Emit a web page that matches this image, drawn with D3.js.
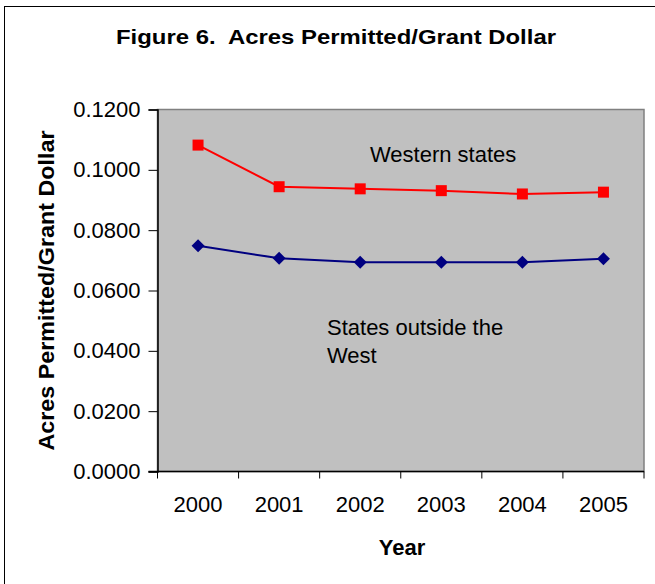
<!DOCTYPE html>
<html>
<head>
<meta charset="utf-8">
<title>Figure 6</title>
<script src="https://d3js.org/d3.v7.min.js"></script>
<style>
    body { margin: 0; background: #fff; font-family: "Liberation Sans", Arial, sans-serif; }
    .tick-label { font-size: 22px; fill: #000; }
    .axis-title { font-size: 22px; font-weight: bold; fill: #000; }
    .note { font-size: 22px; fill: #000; }
</style>
</head>
<body>
<script>
    var years = ["2000", "2001", "2002", "2003", "2004", "2005"];
    var western = [0.1082, 0.0944, 0.0937, 0.0931, 0.0920, 0.0926];
    var outside = [0.0748, 0.0707, 0.0694, 0.0694, 0.0694, 0.0705];
    var yTicks = [0, 0.02, 0.04, 0.06, 0.08, 0.10, 0.12];

    var plot = {left: 157.5, top: 109.5, right: 644, bottom: 471.5};

    var svg = d3.select('body').append('svg')
        .attr('width', 655)
        .attr('height', 584);

    // outer frame
    svg.append('rect')
        .attr('x', 4.5).attr('y', 6.5)
        .attr('width', 700).attr('height', 700)
        .attr('fill', 'none')
        .attr('stroke', '#000')
        .attr('stroke-width', 1);

    svg.append('text')
        .attr('class', 'axis-title')
        .attr('x', 116).attr('y', 44)
        .attr('textLength', 440)
        .attr('lengthAdjust', 'spacingAndGlyphs')
        .attr('xml:space', 'preserve')
        .style('font-size', '21px')
        .text('Figure 6.  Acres Permitted/Grant Dollar');

    var x = d3.scaleBand()
        .domain(years)
        .range([plot.left, plot.right]);

    var y = d3.scaleLinear()
        .domain([0, 0.12])
        .range([plot.bottom, plot.top]);

    // plot area
    svg.append('rect')
        .attr('x', plot.left).attr('y', plot.top)
        .attr('width', plot.right - plot.left)
        .attr('height', plot.bottom - plot.top)
        .attr('fill', '#c0c0c0')
        .attr('stroke', '#808080')
        .attr('stroke-width', 1.5);

    // y axis
    var yAxis = d3.axisLeft(y)
        .tickValues(yTicks)
        .tickSize(9)
        .tickPadding(8)
        .tickFormat(d3.format('.4f'));
    var gy = svg.append('g')
        .attr('transform', 'translate(' + plot.left + ',0)')
        .call(yAxis);
    gy.select('.domain').attr('stroke', '#000').attr('stroke-width', 1.5);
    gy.selectAll('.tick line').attr('stroke', '#000');
    gy.selectAll('.tick text').attr('class', 'tick-label');
    gy.attr('font-family', null).attr('font-size', null);

    // x axis: ticks at category boundaries
    var gx = svg.append('g');
    gx.append('line')
        .attr('x1', plot.left - 9).attr('x2', plot.right)
        .attr('y1', plot.bottom).attr('y2', plot.bottom)
        .attr('stroke', '#000').attr('stroke-width', 1.5);
    var bounds = years.map(function(d){ return x(d); }).concat([x.range()[1]]);
    gx.selectAll('line.xt')
        .data(bounds)
        .enter().append('line')
        .attr('class', 'xt')
        .attr('x1', function(d){ return d; }).attr('x2', function(d){ return d; })
        .attr('y1', plot.bottom).attr('y2', plot.bottom + 7)
        .attr('stroke', '#000');
    gx.selectAll('text')
        .data(years)
        .enter().append('text')
        .attr('class', 'tick-label')
        .attr('x', function(d){ return x(d) + x.bandwidth() / 2; })
        .attr('y', 512)
        .attr('text-anchor', 'middle')
        .text(function(d){ return d; });

    svg.append('text')
        .attr('class', 'axis-title')
        .attr('x', 402).attr('y', 555)
        .attr('text-anchor', 'middle')
        .text('Year');

    svg.append('text')
        .attr('class', 'axis-title')
        .attr('transform', 'translate(54,' + ((plot.top + plot.bottom) / 2) + ') rotate(-90)')
        .attr('text-anchor', 'middle')
        .attr('textLength', 320)
        .attr('lengthAdjust', 'spacingAndGlyphs')
        .text('Acres Permitted/Grant Dollar');

    var line = d3.line()
        .x(function(d, i){ return x(years[i]) + x.bandwidth() / 2; })
        .y(function(d){ return y(d); });

    svg.append('path')
        .datum(western)
        .attr('d', line)
        .attr('fill', 'none')
        .attr('stroke', '#ff0000')
        .attr('stroke-width', 2);

    svg.append('path')
        .datum(outside)
        .attr('d', line)
        .attr('fill', 'none')
        .attr('stroke', '#000080')
        .attr('stroke-width', 2);

    svg.selectAll('rect.sq')
        .data(western)
        .enter().append('rect')
        .attr('class', 'sq')
        .attr('x', function(d, i){ return x(years[i]) + x.bandwidth() / 2 - 5.5; })
        .attr('y', function(d){ return y(d) - 5.5; })
        .attr('width', 11).attr('height', 11)
        .attr('fill', '#ff0000');

    svg.selectAll('path.dia')
        .data(outside)
        .enter().append('path')
        .attr('class', 'dia')
        .attr('d', 'M0,-6.5L6.5,0L0,6.5L-6.5,0Z')
        .attr('transform', function(d, i){
            return 'translate(' + (x(years[i]) + x.bandwidth() / 2) + ',' + y(d) + ')';
        })
        .attr('fill', '#000080');

    svg.append('text')
        .attr('class', 'note')
        .attr('x', 370).attr('y', 162)
        .text('Western states');

    svg.append('text')
        .attr('class', 'note')
        .attr('x', 327).attr('y', 335)
        .text('States outside the');
    svg.append('text')
        .attr('class', 'note')
        .attr('x', 327).attr('y', 363)
        .text('West');
</script>
</body>
</html>
